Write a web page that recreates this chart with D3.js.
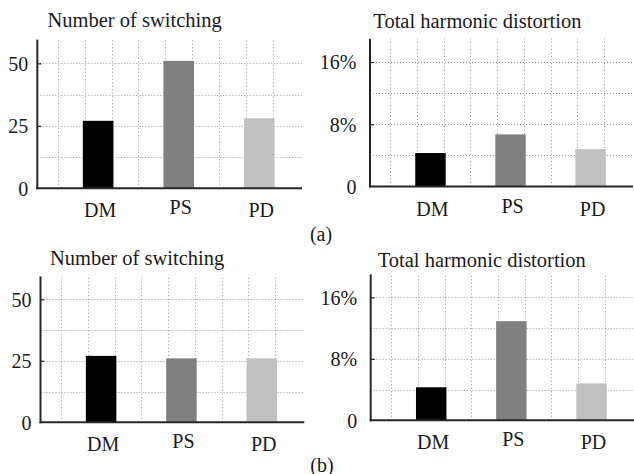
<!DOCTYPE html>
<html>
<head>
<meta charset="utf-8">
<script src="https://cdn.jsdelivr.net/npm/d3@7"></script>
<style>
  html, body { margin: 0; padding: 0; background: #fff; }
  svg { display: block; }
  text { font-family: "Liberation Serif", Tinos, "Times New Roman", Times, "DejaVu Serif", serif; fill: #1a1a1a; }
</style>
</head>
<body>
<svg id="chart" width="634" height="474"></svg>
<script>
// Modulation methods compared in every panel
const categories = ["DM", "PS", "PD"];
const barColors = ["#000000", "#808080", "#c0c0c0"];

// Case (a)
const switchingA = [27, 51, 28];
const thdA = [4.3, 6.7, 4.8];

// Case (b)
const switchingB = [27, 26, 26];
const thdB = [4.3, 12.9, 4.8];

// Axis ticks
const switchingTicks = [0, 25, 50];
const switchingGrid = [12.5, 25, 37.5, 50];
const thdTicks = [0, 8, 16];
const thdGrid = [4, 8, 12, 16];
const xGrid = [0.5, 0.8333, 1.1667, 1.5, 1.8333, 2.1667, 2.5, 2.8333, 3.1667];

const serif = '"Liberation Serif", Tinos, "Times New Roman", Times, "DejaVu Serif", serif';
const svg = d3.select("#chart");

// Panel layout: plot box in pixels, axis extent, tick label gap and title anchor
const panels = [
  { title: "Number of switching", values: switchingA, ticks: switchingTicks, grid: switchingGrid,
    yMax: 59.5, fmt: d => String(d), x0: 37.3, x1: 302, y0: 188.3, y1: 39.6,
    gap: 5, titleX: 47.5, titleY: 26.7 },
  { title: "Total harmonic distortion", values: thdA, ticks: thdTicks, grid: thdGrid,
    yMax: 19, fmt: d => d === 0 ? "0" : d + "%", x0: 370, x1: 633, y0: 186.5, y1: 38.7,
    gap: 9.5, titleX: 373.3, titleY: 28.3 },
  { title: "Number of switching", values: switchingB, ticks: switchingTicks, grid: switchingGrid,
    yMax: 59.3, fmt: d => String(d), x0: 40.5, x1: 304.3, y0: 422.3, y1: 276.4,
    gap: 5, titleX: 50, titleY: 265.3 },
  { title: "Total harmonic distortion", values: thdB, ticks: thdTicks, grid: thdGrid,
    yMax: 19, fmt: d => d === 0 ? "0" : d + "%", x0: 370.7, x1: 634, y0: 420.3, y1: 274.3,
    gap: 9.5, titleX: 377.7, titleY: 266.7 }
];

const barWidth = 0.38;        // in category units
const labelLift = [0, 3, 0];  // PS label sits slightly higher
const axisColor = "#262626";
const gridColor = "#9a9a9a";

panels.forEach(p => {
  const x = d3.scaleLinear().domain([0.245, 3.53]).range([p.x0, p.x1]);
  const y = d3.scaleLinear().domain([0, p.yMax]).range([p.y0, p.y1]);
  const g = svg.append("g");

  // dotted grid
  g.append("g").selectAll("line").data(xGrid).join("line")
    .attr("x1", d => Math.round(x(d)) + 0.5).attr("x2", d => Math.round(x(d)) + 0.5)
    .attr("y1", y(0)).attr("y2", y(p.yMax))
    .attr("stroke", gridColor).attr("stroke-width", 1)
    .attr("stroke-dasharray", "1,2.5");
  g.append("g").selectAll("line").data(p.grid).join("line")
    .attr("x1", x(0.245)).attr("x2", x(3.53))
    .attr("y1", d => Math.round(y(d)) + 0.5).attr("y2", d => Math.round(y(d)) + 0.5)
    .attr("stroke", gridColor).attr("stroke-width", 1)
    .attr("stroke-dasharray", "1,2");

  // bars
  g.append("g").selectAll("rect").data(p.values).join("rect")
    .attr("x", (d, i) => x(i + 1 - barWidth / 2))
    .attr("width", x(1 + barWidth / 2) - x(1 - barWidth / 2))
    .attr("y", d => y(d))
    .attr("height", d => y(0) - y(d))
    .attr("fill", (d, i) => barColors[i]);

  // y axis
  const yAxis = d3.axisLeft(y).tickValues(p.ticks).tickFormat(p.fmt)
    .tickSizeInner(-4).tickSizeOuter(0).tickPadding(p.gap + 4);
  const ya = g.append("g").attr("transform", `translate(${p.x0},0)`).call(yAxis)
    .attr("font-family", serif).attr("font-size", 20);
  ya.select(".domain").remove();
  ya.selectAll(".tick line").attr("stroke", axisColor).attr("stroke-width", 1.2)
    .filter(d => d === 0).remove();
  ya.selectAll(".tick text").attr("fill", "#1a1a1a").attr("dy", "0.34em");

  g.append("line").attr("x1", p.x0).attr("x2", p.x0)
    .attr("y1", y(0) + 1).attr("y2", y(p.yMax))
    .attr("stroke", axisColor).attr("stroke-width", 2);
  g.append("line").attr("x1", p.x0 - 1).attr("x2", p.x1)
    .attr("y1", y(0)).attr("y2", y(0))
    .attr("stroke", axisColor).attr("stroke-width", 2);

  // category labels
  g.append("g").selectAll("text").data(categories).join("text")
    .attr("x", (d, i) => x(i + 1) + 2)
    .attr("y", (d, i) => y(0) + 29 - labelLift[i])
    .attr("text-anchor", "middle")
    .attr("font-size", 20)
    .text(d => d);

  // title
  g.append("text").attr("x", p.titleX).attr("y", p.titleY)
    .attr("font-size", 20.5).text(p.title);
});

// sub-figure captions
svg.append("text").attr("x", 321).attr("y", 241).attr("text-anchor", "middle")
  .attr("font-size", 20).text("(a)");
svg.append("text").attr("x", 322).attr("y", 471.5).attr("text-anchor", "middle")
  .attr("font-size", 20).text("(b)");
</script>
</body>
</html>
